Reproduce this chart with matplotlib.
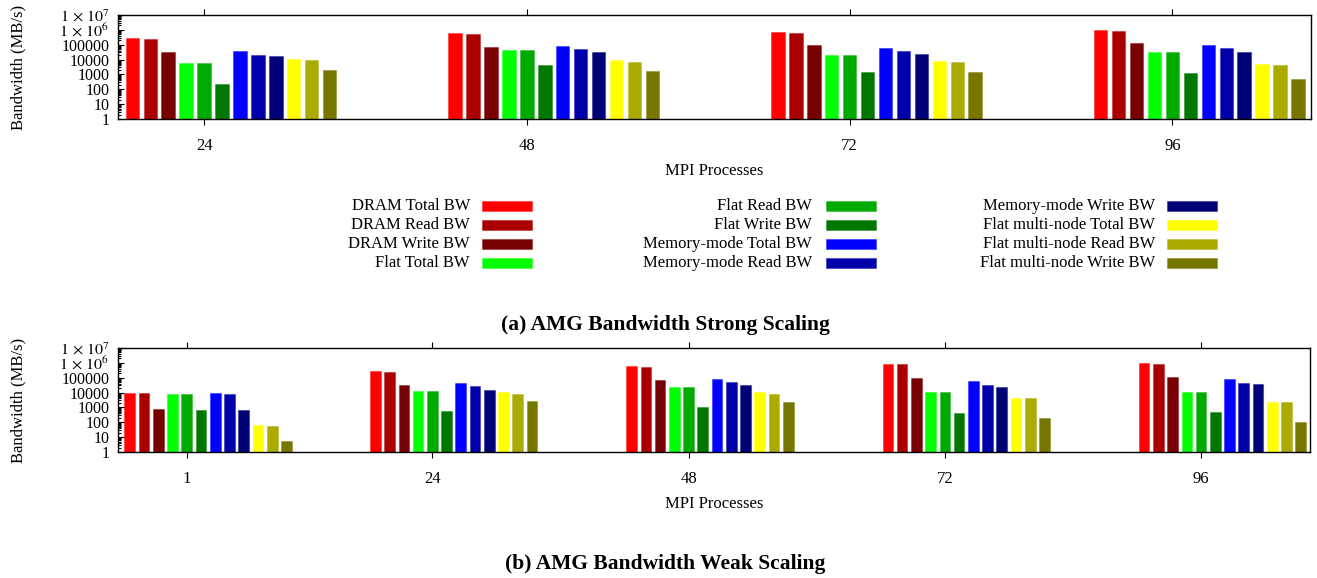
import matplotlib
matplotlib.use("Agg")
import matplotlib.pyplot as plt
from matplotlib.patches import Rectangle
from matplotlib.ticker import LogLocator, NullFormatter, FixedLocator

plt.rcParams['font.family'] = ['Liberation Serif', 'DejaVu Serif']
plt.rcParams['mathtext.fontset'] = 'stix'

series = ["DRAM Total BW", "DRAM Read BW", "DRAM Write BW",
          "Flat Total BW", "Flat Read BW", "Flat Write BW",
          "Memory-mode Total BW", "Memory-mode Read BW", "Memory-mode Write BW",
          "Flat multi-node Total BW", "Flat multi-node Read BW", "Flat multi-node Write BW"]
colors = ["#ff0000", "#aa0000", "#770000",
          "#00ff00", "#00aa00", "#007700",
          "#0000ff", "#0000aa", "#000077",
          "#ffff00", "#aaaa00", "#777700"]

# strong scaling, MB/s, one row per series
strong_procs = [24, 48, 72, 96]
strong_bw = [
    [2.96e5, 5.9e5, 7.5e5, 9.3e5],
    [2.5e5, 5.3e5, 6.5e5, 8.0e5],
    [3.4e4, 7.0e4, 1.0e5, 1.24e5],
    [6.2e3, 4.6e4, 2.0e4, 3.1e4],
    [6.0e3, 4.2e4, 1.9e4, 3.0e4],
    [230, 4.1e3, 1.4e3, 1.3e3],
    [3.8e4, 8.6e4, 6.0e4, 9.6e4],
    [2.1e4, 5.4e4, 3.8e4, 5.7e4],
    [1.74e4, 3.2e4, 2.4e4, 3.4e4],
    [1.1e4, 8.9e3, 7.6e3, 5.0e3],
    [8.9e3, 7.2e3, 6.6e3, 4.3e3],
    [2.0e3, 1.7e3, 1.4e3, 490],
]

# weak scaling
weak_procs = [1, 24, 48, 72, 96]
weak_bw = [
    [9.8e3, 2.96e5, 5.9e5, 8.7e5, 9.8e5],
    [9.0e3, 2.5e5, 5.0e5, 8.0e5, 8.7e5],
    [750, 3.4e4, 7.4e4, 1.0e5, 1.17e5],
    [8.5e3, 1.28e4, 2.5e4, 1.1e4, 1.1e4],
    [7.6e3, 1.2e4, 2.5e4, 1.05e4, 1.05e4],
    [670, 600, 1.1e3, 445, 490],
    [9.3e3, 4.4e4, 8.5e4, 5.7e4, 8.1e4],
    [8.5e3, 2.9e4, 5.4e4, 3.2e4, 4.4e4],
    [670, 1.5e4, 3.1e4, 2.5e4, 4.0e4],
    [66, 1.15e4, 1.1e4, 4.5e3, 2.4e3],
    [59, 8.4e3, 8.4e3, 4.3e3, 2.3e3],
    [4.2, 2.6e3, 2.2e3, 204, 110],
]

ytick_vals = [1, 10, 100, 1000, 10000, 100000, 1e6, 1e7]
ytick_labels = ["1", "10", "100", "1000", "10000", "100000",
                r"$1\,\times\,10^{6}$", r"$1\,\times\,10^{7}$"]

fs = 12
W, H = 1317, 578
fig = plt.figure(figsize=(W / 100, H / 100), dpi=100)


def panel(rect, procs, bw, xlim):
    ax = fig.add_axes(rect)
    step = 4 / 3
    for j, (vals, c) in enumerate(zip(bw, colors)):
        xs = [p + (j - 4) * step for p in procs]
        ax.bar(xs, vals, width=1.0, bottom=1, color=c,
               edgecolor=matplotlib.colors.to_rgba(c, 0.35), linewidth=0.8)
    ax.set_yscale('log')
    ax.set_ylim(1, 1e7)
    ax.set_xlim(*xlim)
    ax.yaxis.set_major_locator(FixedLocator(ytick_vals))
    ax.set_yticklabels(ytick_labels, fontsize=11.5)
    ax.yaxis.set_minor_locator(LogLocator(base=10, subs=range(2, 10), numticks=20))
    ax.yaxis.set_minor_formatter(NullFormatter())
    ax.tick_params(axis='y', which='both', direction='in', right=False,
                   length=4, width=0.8, pad=6)
    ax.tick_params(axis='y', which='minor', length=2)
    ax.set_xticks(procs)
    ax.set_xticklabels([str(p) for p in procs], fontsize=fs)
    ax.tick_params(axis='x', direction='out', top=True, length=4, width=0.8, pad=10)
    for s in ax.spines.values():
        s.set_linewidth(1.0)
    ax.set_ylabel("Bandwidth (MB/s)", fontsize=fs)
    ax.set_xlabel("MPI Processes", fontsize=fs, labelpad=6)
    ax.yaxis.set_label_coords(-0.077, 0.5)
    return ax


ax1 = panel([118 / W, 1 - 119 / H, 1193 / W, 104 / H], strong_procs, strong_bw, (17.6, 106.3))
ax2 = panel([118 / W, 1 - 452 / H, 1192 / W, 104 / H], weak_procs, weak_bw, (-5.44, 106.2))

# legend, 3 columns of 4, text right aligned before the swatch
col_text_x = [470, 812, 1155]
col_box_x = [482, 826, 1167]
row_y = [206, 225, 244, 263]
for k, (name, c) in enumerate(zip(series, colors)):
    col, row = k // 4, k % 4
    y = row_y[row]
    fig.text(col_text_x[col] / W, 1 - y / H, name, ha='right', va='center', fontsize=fs)
    fig.patches.append(Rectangle((col_box_x[col] / W, 1 - (y + 5) / H), 50 / W, 10 / H,
                                 transform=fig.transFigure, facecolor=c,
                                 edgecolor=matplotlib.colors.to_rgba(c, 0.35), linewidth=0.8))

fig.text(0.505, 1 - 325 / H, "(a) AMG Bandwidth Strong Scaling", ha='center', va='center',
         fontsize=15.5, fontweight='bold')
fig.text(0.505, 1 - 564 / H, "(b) AMG Bandwidth Weak Scaling", ha='center', va='center',
         fontsize=15.5, fontweight='bold')

fig.savefig("out.png", dpi=100)
